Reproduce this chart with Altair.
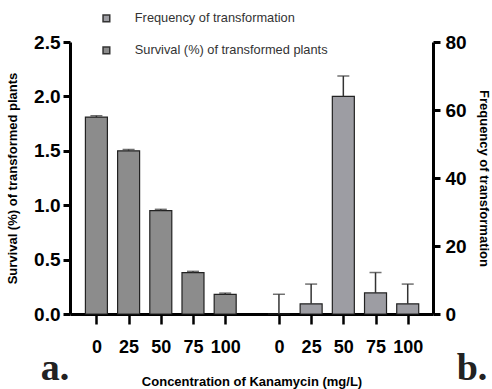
import altair as alt
import pandas as pd

# ---- data ----
conc = ["0", "25", "50", "75", "100"]
survival = [1.81, 1.50, 0.95, 0.38, 0.18]
survival_err = [0.012, 0.012, 0.012, 0.012, 0.012]
frequency = [0.0, 3.0, 64.0, 6.2, 3.0]
frequency_err = [5.8, 5.8, 6.0, 6.0, 5.8]

SURV = "Survival (%) of transformed plants"
FREQ = "Frequency of transformation"

GAP = 5.67  # layout offset of the second group on the shared x axis

s_df = pd.DataFrame({"conc": conc, "idx": range(len(conc)), "value": survival,
                     "err": survival_err, "series": SURV})
s_df["pos"] = s_df["idx"].astype(float)
s_df["hi"] = s_df["value"] + s_df["err"]

f_df = pd.DataFrame({"conc": conc, "idx": range(len(conc)), "value": frequency,
                     "err": frequency_err, "series": FREQ})
f_df["pos"] = f_df["idx"] + GAP
f_df["hi"] = f_df["value"] + f_df["err"]

positions = [float(p) for p in list(s_df["pos"]) + list(f_df["pos"])]
labels = list(s_df["conc"]) + list(f_df["conc"])
expr = "''"
for p, l in reversed(list(zip(positions, labels))):
    expr = f"abs(datum.value - {p}) < 0.01 ? '{l}' : ({expr})"

FONT = "Liberation Sans"

x_enc = alt.X(
    "pos:Q",
    scale=alt.Scale(domain=[-0.665, 10.30], nice=False, zero=False),
    axis=alt.Axis(
        values=positions, labelExpr=expr, grid=False,
        title="Concentration of Kanamycin (mg/L)",
        titleFont=FONT, titleFontSize=13, titleFontWeight="bold", titleColor="black",
        titlePadding=19,
        labelFont=FONT, labelFontSize=18, labelFontWeight="bold", labelColor="black",
        labelPadding=14, tickSize=10, tickWidth=2.5, tickColor="black",
        domainWidth=3, domainColor="black", labelFlush=False, labelOverlap=False,
    ),
)

color_enc = alt.Color(
    "series:N",
    scale=alt.Scale(domain=[FREQ, SURV], range=["#9d9da3", "#8c8c8c"]),
    legend=alt.Legend(
        orient="none", legendX=30, legendY=-30, title=None, direction="vertical",
        symbolType="square", symbolSize=45, symbolStrokeColor="#333",
        symbolStrokeWidth=1.5, labelFont=FONT, labelFontSize=12.8,
        labelColor="#333", labelOffset=22, rowPadding=18, labelLimit=400,
    ),
)

y_common = dict(grid=False, titleFont=FONT, titleFontSize=13, titleFontWeight="bold",
                titleColor="black", labelFont=FONT, labelFontSize=19,
                labelFontWeight="bold", labelColor="black", tickSize=7, tickWidth=3,
                tickColor="black", domainWidth=3, domainColor="black")

s_scale = alt.Scale(domain=[0, 2.5], nice=False)
f_scale = alt.Scale(domain=[0, 80], nice=False)
s_axis = alt.Axis(orient="left", values=[0, 0.5, 1, 1.5, 2, 2.5], format=".1f",
                  title=SURV, titlePadding=14, labelPadding=3, **y_common)
f_axis = alt.Axis(orient="right", values=[0, 20, 40, 60, 80],
                  title=FREQ, titlePadding=10, labelPadding=5, **y_common)


def group(df, scale, axis):
    base = alt.Chart(df)
    bars = base.mark_bar(size=22, stroke="#222", strokeWidth=1.2).encode(
        x=x_enc, y=alt.Y("value:Q", scale=scale, axis=axis), color=color_enc)
    rule = base.mark_rule(color="#333", strokeWidth=1.5).encode(
        x=x_enc, y=alt.Y("value:Q", scale=scale, axis=axis), y2=alt.Y2("hi:Q"))
    cap = base.mark_tick(orient="horizontal", size=12, thickness=1.5, color="#333").encode(
        x=x_enc, y=alt.Y("hi:Q", scale=scale, axis=axis))
    return alt.layer(bars, rule, cap)


panel_a = alt.Chart(pd.DataFrame({"t": ["a."]})).mark_text(
    font="Liberation Serif", fontSize=38, fontWeight="bold", color="#222",
    align="center", baseline="alphabetic").encode(
    text="t:N", x=alt.value(-15), y=alt.value(338))
panel_b = alt.Chart(pd.DataFrame({"t": ["b."]})).mark_text(
    font="Liberation Serif", fontSize=38, fontWeight="bold", color="#222",
    align="center", baseline="alphabetic").encode(
    text="t:N", x=alt.value(402), y=alt.value(338))

chart = alt.layer(
    group(s_df, s_scale, s_axis), group(f_df, f_scale, f_axis), panel_a, panel_b
).resolve_scale(
    y="independent"
).properties(
    width=363, height=272, autosize="none", background="white",
    padding={"left": 70, "top": 42, "right": 59, "bottom": 75},
).configure_view(stroke="#ffffff", strokeOpacity=0, strokeWidth=1)

chart.save("out.html", embed_options={"renderer": "svg", "actions": False})
